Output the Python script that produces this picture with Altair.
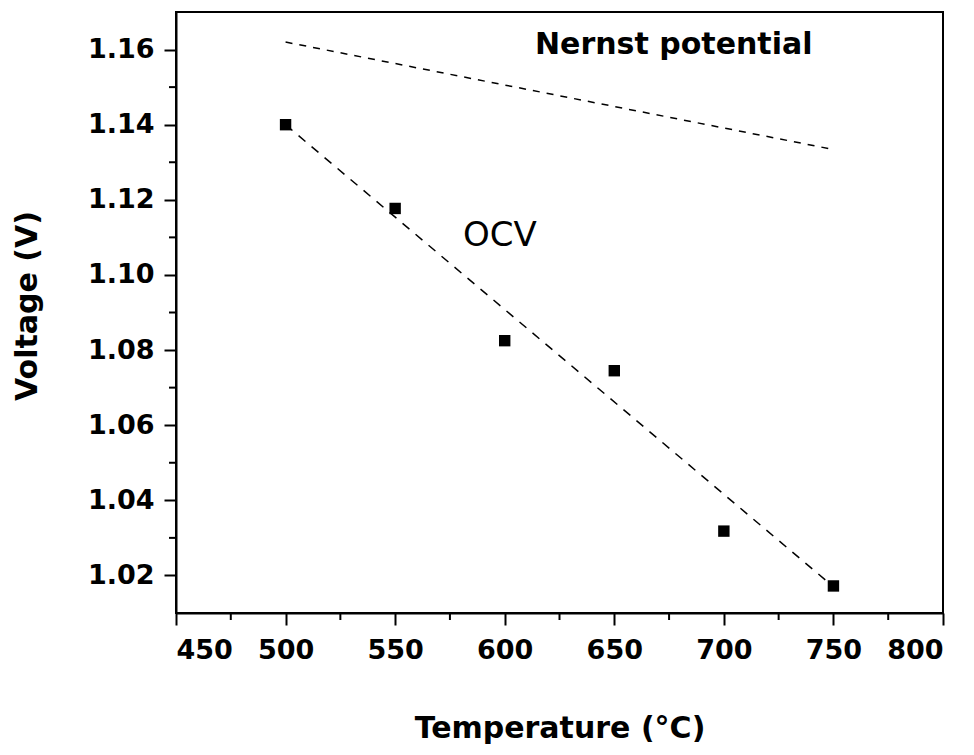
import altair as alt
import pandas as pd

# Measured open-circuit voltage vs. operating temperature
temperature = [500, 550, 600, 650, 700, 750]
ocv = [1.1400, 1.1177, 1.0825, 1.0745, 1.0318, 1.0172]

# Linear trend through the OCV points
ocv_trend_t = [500, 750]
ocv_trend_v = [1.1400, 1.0170]

# Theoretical Nernst potential
nernst_t = [500, 750]
nernst_v = [1.1620, 1.1334]

# Axis ticks
x_major = [450, 500, 550, 600, 650, 700, 750, 800]
x_minor = [475, 525, 575, 625, 675, 725, 775]
y_major = [1.02, 1.04, 1.06, 1.08, 1.10, 1.12, 1.14, 1.16]
y_minor = [1.03, 1.05, 1.07, 1.09, 1.11, 1.13, 1.15]

# In-plot labels
label_text = ["Nernst potential", "OCV"]
label_t = [613.8, 581.0]
label_v = [1.1587, 1.1077]

W, H = 767, 601
FONT = "DejaVu Sans"

xs = alt.Scale(domain=[450, 800], nice=False, zero=False)
ys = alt.Scale(domain=[1.01, 1.17], nice=False, zero=False)

x_axis = alt.Axis(
    values=x_major, format="d", title="Temperature (°C)", grid=False,
    domainColor="black", domainWidth=2, tickColor="black", tickWidth=2, tickSize=12,
    labelFont=FONT, labelFontWeight="bold", labelFontSize=27, labelColor="black",
    labelPadding=12, titleFont=FONT, titleFontWeight="bold", titleFontSize=30,
    titleColor="black", titleY=124, titleBaseline="alphabetic",
)
y_axis = alt.Axis(
    values=y_major, format=".2f", title="Voltage (V)", grid=False,
    domainColor="black", domainWidth=2, tickColor="black", tickWidth=2, tickSize=12,
    labelFont=FONT, labelFontWeight="bold", labelFontSize=27, labelColor="black",
    labelPadding=10, titleFont=FONT, titleFontWeight="bold", titleFontSize=30,
    titleColor="black", titleAngle=270, titleX=-140, titleY=293.5,
    titleAlign="center", titleBaseline="alphabetic",
)

pts_df = pd.DataFrame({"t": temperature, "v": ocv})
trend_df = pd.DataFrame({"t": ocv_trend_t, "v": ocv_trend_v})
nernst_df = pd.DataFrame({"t": nernst_t, "v": nernst_v})
xminor_df = pd.DataFrame({"t": x_minor})
yminor_df = pd.DataFrame({"v": y_minor})
lab_df = pd.DataFrame({"t": label_t, "v": label_v, "label": label_text})

points = alt.Chart(pts_df).mark_square(size=130, color="black", opacity=1).encode(
    x=alt.X("t:Q", scale=xs, axis=x_axis),
    y=alt.Y("v:Q", scale=ys, axis=y_axis),
)

trend = alt.Chart(trend_df).mark_line(
    color="black", strokeWidth=1.5, strokeDash=[9, 8]
).encode(
    x=alt.X("t:Q", scale=xs, axis=None),
    y=alt.Y("v:Q", scale=ys, axis=None),
)

nernst = alt.Chart(nernst_df).mark_line(
    color="black", strokeWidth=1.5, strokeDash=[7, 7]
).encode(
    x=alt.X("t:Q", scale=xs, axis=None),
    y=alt.Y("v:Q", scale=ys, axis=None),
)

# Minor ticks drawn outside the plot frame
x_minor_ticks = alt.Chart(xminor_df).mark_rule(color="black", strokeWidth=2).encode(
    x=alt.X("t:Q", scale=xs, axis=None),
    y=alt.value(H),
    y2=alt.value(H + 7),
)
y_minor_ticks = alt.Chart(yminor_df).mark_rule(color="black", strokeWidth=2).encode(
    y=alt.Y("v:Q", scale=ys, axis=None),
    x=alt.value(0),
    x2=alt.value(-7),
)

nernst_label = alt.Chart(lab_df.iloc[[0]]).mark_text(
    align="left", baseline="alphabetic", font=FONT, fontSize=30,
    fontWeight="bold", color="black",
).encode(
    x=alt.X("t:Q", scale=xs, axis=None),
    y=alt.Y("v:Q", scale=ys, axis=None),
    text="label:N",
)
ocv_label = alt.Chart(lab_df.iloc[[1]]).mark_text(
    align="left", baseline="alphabetic", font=FONT, fontSize=34,
    fontWeight="normal", color="black",
).encode(
    x=alt.X("t:Q", scale=xs, axis=None),
    y=alt.Y("v:Q", scale=ys, axis=None),
    text="label:N",
)

chart = alt.layer(
    points, trend, nernst, x_minor_ticks, y_minor_ticks, nernst_label, ocv_label
).resolve_axis(
    x="independent", y="independent"
).properties(
    width=W,
    height=H,
    padding={"left": 176, "top": 12, "right": 31, "bottom": 142},
    autosize=alt.AutoSizeParams(type="none"),
    background="white",
).configure_view(
    stroke="black", strokeWidth=2
)

chart.save("out.html", embed_options={"renderer": "svg", "actions": False})
